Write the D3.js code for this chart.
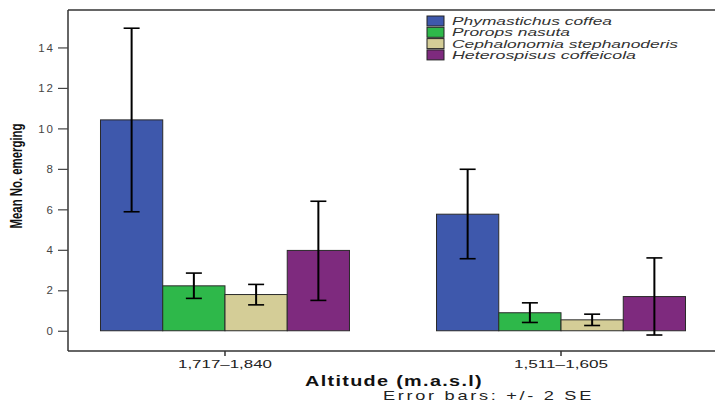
<!DOCTYPE html>
<html><head><meta charset="utf-8">
<script src="https://cdn.jsdelivr.net/npm/d3@7/dist/d3.min.js"></script>
<style>body{margin:0;background:#fff}svg{display:block}</style>
</head><body><svg id="c" width="715" height="403"></svg>
<script>
const categories = ["1,717\u20131,840", "1,511\u20131,605"];
const species = ["Phymastichus coffea", "Prorops nasuta", "Cephalonomia stephanoderis", "Heterospisus coffeicola"];
const colors = ["#3E58AC", "#2EB84A", "#D4CD97", "#7E2A7E"];
// mean values per species, by category
const means = [[10.42, 5.76], [2.22, 0.89], [1.79, 0.54], [3.97, 1.69]];
const errLow = [[5.88, 3.56], [1.60, 0.41], [1.28, 0.26], [1.50, -0.21]];
const errHigh = [[14.95, 7.98], [2.85, 1.38], [2.29, 0.82], [6.40, 3.60]];
const yTicks = [0, 2, 4, 6, 8, 10, 12, 14];

const svg = d3.select("#c");
const L = 68, R = 718, T = 10, B = 351;
const font = "Liberation Sans, Arial, sans-serif";
const x = d3.scaleBand().domain(categories).range([L, R]).paddingInner(0.259).paddingOuter(0.0967);
const xs = d3.scaleBand().domain(species).range([0, x.bandwidth()]);
const y = d3.scaleLinear().domain([-1, 15.85]).range([B, T]);

// bars
species.forEach((s, si) => {
  categories.forEach((c, ci) => {
    svg.append("rect")
      .attr("x", x(c) + xs(s)).attr("width", xs.bandwidth())
      .attr("y", y(means[si][ci])).attr("height", y(0) - y(means[si][ci]))
      .attr("fill", colors[si]).attr("stroke", "#2a2a2a").attr("stroke-width", 1);
  });
});
// error bars
species.forEach((s, si) => {
  categories.forEach((c, ci) => {
    const cx = x(c) + xs(s) + xs.bandwidth() / 2;
    const g = svg.append("g").attr("stroke", "#000").attr("stroke-width", 2);
    g.append("line").attr("x1", cx).attr("x2", cx).attr("y1", y(errLow[si][ci])).attr("y2", y(errHigh[si][ci]));
    [errLow[si][ci], errHigh[si][ci]].forEach(v => {
      g.append("line").attr("x1", cx - 8).attr("x2", cx + 8).attr("y1", y(v)).attr("y2", y(v)).attr("stroke-width", 1.6);
    });
  });
});

// frame
const fr = svg.append("g").attr("stroke", "#333").attr("stroke-width", 1.5).attr("fill", "none");
fr.append("line").attr("x1", L).attr("x2", 715).attr("y1", T).attr("y2", T);
fr.append("line").attr("x1", L).attr("x2", 715).attr("y1", B).attr("y2", B);
fr.append("line").attr("x1", L).attr("x2", L).attr("y1", T).attr("y2", B);

// y axis
const yAx = svg.append("g").attr("transform", `translate(${L},0)`)
  .call(d3.axisLeft(y).tickValues(yTicks).tickSize(10).tickPadding(3).tickFormat(d3.format("d")));
yAx.select(".domain").remove();
yAx.selectAll("line").attr("stroke", "#444").attr("stroke-width", 1.2);
yAx.selectAll("text").attr("font-family", font).attr("font-size", 11.5)
  .attr("fill", "#444").attr("letter-spacing", "2px");

// x axis
const xAx = svg.append("g").attr("transform", `translate(0,${B})`)
  .call(d3.axisBottom(x).tickSize(5).tickPadding(4));
xAx.select(".domain").remove();
xAx.selectAll("line").attr("stroke", "#333").attr("stroke-width", 1.5);
xAx.selectAll("text").attr("font-family", font).attr("font-size", 11.5)
  .attr("fill", "#222").attr("textLength", 94).attr("lengthAdjust", "spacingAndGlyphs");

// axis titles
svg.append("text").attr("x", 394).attr("y", 386).attr("text-anchor", "middle")
  .attr("font-family", font).attr("font-weight", "bold").attr("font-size", 15).attr("letter-spacing", "1px")
  .attr("textLength", 178).attr("lengthAdjust", "spacingAndGlyphs").attr("fill", "#111").text("Altitude (m.a.s.l)");
svg.append("text").attr("x", 488.5).attr("y", 400).attr("text-anchor", "middle")
  .attr("font-family", font).attr("font-size", 13.5).attr("letter-spacing", "2px")
  .attr("textLength", 211).attr("lengthAdjust", "spacingAndGlyphs").attr("fill", "#222").text("Error bars: +/- 2 SE");
svg.append("text").attr("transform", "translate(22,176) rotate(-90)").attr("text-anchor", "middle")
  .attr("font-family", "Liberation Sans Narrow, Arial Narrow, Liberation Sans, sans-serif").attr("font-weight", "bold")
  .attr("font-size", 16).attr("textLength", 105).attr("lengthAdjust", "spacingAndGlyphs")
  .attr("fill", "#111").text("Mean No. emerging");

// legend
const lg = svg.append("g");
const lens = [160, 118, 226, 184];
species.forEach((s, i) => {
  const cy = 21 + i * 11.3;
  lg.append("rect").attr("x", 427).attr("y", cy - 5).attr("width", 17).attr("height", 10)
    .attr("fill", colors[i]).attr("stroke", "#222").attr("stroke-width", 1);
  lg.append("text").attr("x", 452).attr("y", cy + 4)
    .attr("font-family", font).attr("font-style", "italic").attr("font-size", 11.5)
    .attr("textLength", lens[i]).attr("lengthAdjust", "spacingAndGlyphs").attr("fill", "#333").text(s);
});
</script></body></html>
